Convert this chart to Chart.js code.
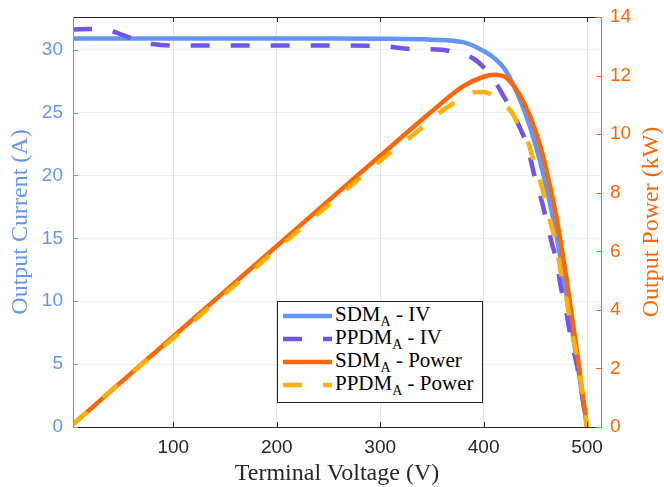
<!DOCTYPE html>
<html lang="en">
<head>
    <meta charset="UTF-8">
    <title>IV and Power Curves</title>
    <style>
        body {
            margin: 0;
            background: #fff;
        }
        .wrap {
            position: relative;
            width: 664px;
            height: 487px;
        }
        canvas {
            display: block;
        }
        #legend {
            position: absolute;
            left: 277px;
            top: 301px;
            width: 206px;
            height: 102px;
            box-sizing: border-box;
            background: #fff;
            border: 1px solid #262626;
            font-family: "Liberation Serif", "Times New Roman", serif;
            font-size: 21px;
            color: #000;
        }
        #legend svg {
            position: absolute;
            left: 0;
            top: 0;
        }
        .row {
            position: absolute;
            left: 57px;
            height: 22px;
            line-height: 22px;
            white-space: nowrap;
        }
        .sub {
            font-size: 14px;
            position: relative;
            top: 5px;
        }
    </style>
</head>
<body>
<div class="wrap">
    <canvas id="ivChart" width="664" height="487"></canvas>
    <div id="legend">
        <svg width="60" height="100">
            <line x1="5" y1="14" x2="54" y2="14" stroke="#6495f5" stroke-width="4.5"/>
            <line x1="5" y1="37" x2="54" y2="37" stroke="#7254ec" stroke-width="4.5" stroke-dasharray="19 21"/>
            <line x1="5" y1="60" x2="54" y2="60" stroke="#ff6600" stroke-width="4.5"/>
            <line x1="5" y1="83" x2="54" y2="83" stroke="#ffb000" stroke-width="4.5" stroke-dasharray="19 21"/>
        </svg>
        <div class="row" style="top:1px">SDM<span class="sub">A</span> - IV</div>
        <div class="row" style="top:24px">PPDM<span class="sub">A</span> - IV</div>
        <div class="row" style="top:47px">SDM<span class="sub">A</span> - Power</div>
        <div class="row" style="top:70px">PPDM<span class="sub">A</span> - Power</div>
    </div>
</div>

<script src="https://cdn.jsdelivr.net/npm/chart.js"></script>
<script>
    // values
    const sdmV = [3, 50, 100, 150, 200, 250, 300, 350, 380, 400, 410, 420, 430, 440, 450, 460, 470, 480, 490, 500];
    const sdmI = [30.9, 30.9, 30.9, 30.9, 30.9, 30.9, 30.88, 30.8, 30.6, 29.9, 29.35, 28.5, 27.0, 25.0, 22.5, 19.3, 15.4, 10.6, 5.4, 0];
    const sdmP = [0.09, 1.55, 3.09, 4.64, 6.18, 7.73, 9.26, 10.78, 11.63, 11.96, 12.03, 11.97, 11.61, 11.0, 10.13, 8.88, 7.24, 5.09, 2.65, 0];

    const ppdmV = [3, 20, 40, 50, 60, 80, 100, 150, 200, 250, 300, 330, 360, 375, 390, 400, 410, 420, 427, 435, 442, 450, 457, 461, 466, 470, 475, 480, 485, 490, 495, 500];
    const ppdmI = [31.6, 31.65, 31.5, 31.2, 30.9, 30.45, 30.33, 30.33, 30.33, 30.33, 30.3, 30.05, 30.0, 29.7, 29.3, 28.6, 27.6, 26.2, 25.2, 23.8, 22.4, 19.7, 17.7, 16.3, 14.6, 13.4, 11.0, 9.1, 6.8, 5.0, 2.6, 0];
    const ppdmP = [0.09, 0.63, 1.26, 1.56, 1.85, 2.44, 3.03, 4.55, 6.07, 7.58, 9.09, 9.92, 10.8, 11.14, 11.43, 11.44, 11.3, 11.0, 10.76, 10.2, 9.8, 8.9, 8.1, 7.5, 6.8, 6.3, 5.2, 4.4, 3.3, 2.45, 1.3, 0];

    const xTicks = [100, 200, 300, 400, 500];
    const yTicks = [0, 5, 10, 15, 20, 25, 30];
    const y1Ticks = [0, 2, 4, 6, 8, 10, 12, 14];

    const blue = '#6495f5';
    const purple = '#7254ec';
    const orange = '#ff6600';
    const yellow = '#ffb000';
    const dark = '#262626';

    function pts(xs, ys) {
        return xs.map((v, i) => ({ x: v, y: ys[i] }));
    }
    function setTicks(list) {
        return scale => { scale.ticks = list.map(v => ({ value: v })); };
    }
    // fixed axis sizes, no extra room for label overhang
    function fitX(h) {
        return s => { s.height = h; s.paddingLeft = 0; s.paddingRight = 0; };
    }
    function fitY(w) {
        return s => { s.width = w; s.paddingTop = 0; s.paddingBottom = 0; };
    }

    const tickFont = { family: 'Liberation Sans, Arial, sans-serif', size: 19 };

    // box, inward tick marks and axis titles, like the matlab figure
    const frame = {
        id: 'frame',
        afterDraw(chart) {
            const ctx = chart.ctx;
            const a = chart.chartArea;
            const sx = chart.scales.x, sy = chart.scales.y, sy1 = chart.scales.y1;
            ctx.save();
            ctx.lineWidth = 1;

            ctx.strokeStyle = dark;
            ctx.beginPath();
            ctx.moveTo(a.left, a.top + 0.5); ctx.lineTo(a.right, a.top + 0.5);
            ctx.moveTo(a.left, a.bottom + 0.5); ctx.lineTo(a.right, a.bottom + 0.5);
            xTicks.forEach(v => {
                const px = Math.round(sx.getPixelForValue(v)) + 0.5;
                ctx.moveTo(px, a.top); ctx.lineTo(px, a.top + 5);
                ctx.moveTo(px, a.bottom); ctx.lineTo(px, a.bottom - 5);
            });
            ctx.stroke();

            ctx.strokeStyle = blue;
            ctx.beginPath();
            ctx.moveTo(a.left + 0.5, a.top); ctx.lineTo(a.left + 0.5, a.bottom + 1);
            yTicks.forEach(v => {
                const py = Math.round(sy.getPixelForValue(v)) + 0.5;
                ctx.moveTo(a.left, py); ctx.lineTo(a.left + 5, py);
            });
            ctx.stroke();

            ctx.strokeStyle = orange;
            ctx.beginPath();
            ctx.moveTo(a.right + 0.5, a.top); ctx.lineTo(a.right + 0.5, a.bottom + 1);
            y1Ticks.forEach(v => {
                const py = Math.round(sy1.getPixelForValue(v)) + 0.5;
                ctx.moveTo(a.right - 5, py); ctx.lineTo(a.right, py);
            });
            ctx.stroke();

            ctx.font = '24px "Liberation Serif", "Times New Roman", serif';
            ctx.textAlign = 'center';
            ctx.textBaseline = 'middle';

            ctx.fillStyle = dark;
            ctx.fillText('Terminal Voltage (V)', (a.left + a.right) / 2, 474);

            const midY = (a.top + a.bottom) / 2;
            ctx.fillStyle = blue;
            ctx.save();
            ctx.translate(21, midY);
            ctx.rotate(-Math.PI / 2);
            ctx.fillText('Output Current (A)', 0, 0);
            ctx.restore();

            ctx.fillStyle = orange;
            ctx.save();
            ctx.translate(652, midY);
            ctx.rotate(-Math.PI / 2);
            ctx.fillText('Output Power (kW)', 0, 0);
            ctx.restore();

            ctx.restore();
        }
    };

    const lineBase = {
        borderWidth: 4.5,
        pointRadius: 0,
        fill: false,
        cubicInterpolationMode: 'monotone'
    };

    new Chart(document.getElementById('ivChart'), {
        type: 'line',
        data: {
            datasets: [
                { ...lineBase, label: 'SDM - IV', data: pts(sdmV, sdmI), borderColor: blue, yAxisID: 'y', order: 4 },
                { ...lineBase, label: 'PPDM - IV', data: pts(ppdmV, ppdmI), borderColor: purple, borderDash: [19, 21], yAxisID: 'y', order: 3 },
                { ...lineBase, label: 'SDM - Power', data: pts(sdmV, sdmP), borderColor: orange, yAxisID: 'y1', order: 2 },
                { ...lineBase, label: 'PPDM - Power', data: pts(ppdmV, ppdmP), borderColor: yellow, borderDash: [19, 21], yAxisID: 'y1', order: 1 }
            ]
        },
        options: {
            responsive: false,
            animation: false,
            layout: { padding: { top: 17, bottom: 0, left: 0, right: 0 } },
            plugins: {
                legend: { display: false },
                tooltip: { enabled: false }
            },
            scales: {
                x: {
                    type: 'linear',
                    min: 3,
                    max: 513.5,
                    afterBuildTicks: setTicks(xTicks),
                    afterFit: fitX(60),
                    grid: { color: 'rgba(38,38,60,0.12)', drawTicks: false },
                    border: { display: false },
                    ticks: { color: dark, font: tickFont, padding: 9, maxRotation: 0 }
                },
                y: {
                    position: 'left',
                    min: 0,
                    max: 32.6,
                    afterBuildTicks: setTicks(yTicks),
                    afterFit: fitY(73),
                    grid: { color: 'rgba(100,149,245,0.15)', drawTicks: false },
                    border: { display: false },
                    ticks: { color: blue, font: tickFont, padding: 10 }
                },
                y1: {
                    position: 'right',
                    min: 0,
                    max: 14,
                    afterBuildTicks: setTicks(y1Ticks),
                    afterFit: fitY(63),
                    grid: { drawOnChartArea: false, drawTicks: false },
                    border: { display: false },
                    ticks: { color: orange, font: tickFont, padding: 9 }
                }
            }
        },
        plugins: [frame]
    });
</script>
</body>
</html>
